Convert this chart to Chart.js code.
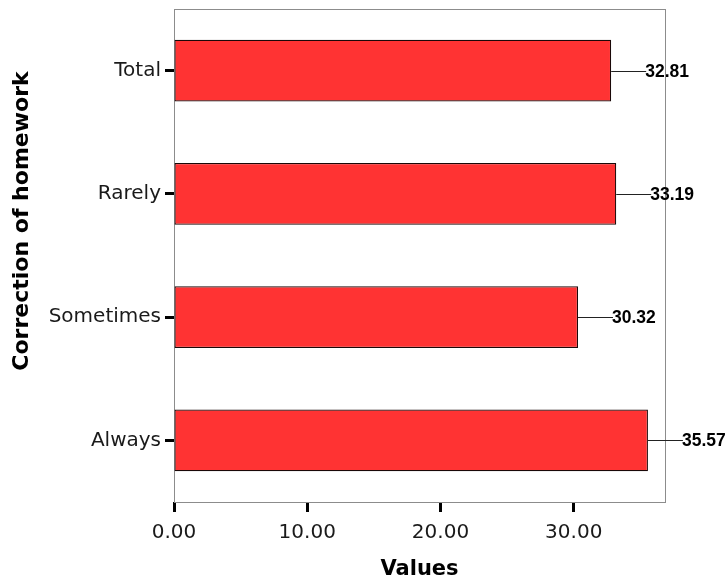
<!DOCTYPE html>
<html>
<head>
<meta charset="utf-8">
<script src="https://cdn.jsdelivr.net/npm/chart.js@4.4.1/dist/chart.umd.min.js"></script>
<style>
html, body { margin: 0; padding: 0; background: #fff; }
</style>
</head>
<body>
<canvas id="myChart" width="728" height="580"></canvas>
<script>
// categories, top to bottom
const categories = ['Total', 'Rarely', 'Sometimes', 'Always'];
// mean values per category
const values = [32.81, 33.19, 30.32, 35.57];
// x axis ticks
const xTicks = [0, 10, 20, 30];
const xMax = 36.85;
const xTitle = 'Values';
const yTitle = 'Correction of homework';

// box round the plot, leader lines with value labels, axis titles
const extras = {
  id: 'extras',
  beforeDatasetsDraw(chart) {
    const { ctx, chartArea: a } = chart;
    ctx.save();
    ctx.strokeStyle = '#8c8c8c';
    ctx.lineWidth = 1;
    ctx.strokeRect(Math.round(a.left) + 0.5, Math.round(a.top) + 0.5,
      Math.round(a.right - a.left), Math.round(a.bottom - a.top));
    ctx.restore();
  },
  afterDatasetsDraw(chart) {
    const { ctx } = chart;
    const meta = chart.getDatasetMeta(0);
    ctx.save();
    ctx.strokeStyle = '#222';
    ctx.lineWidth = 1;
    ctx.fillStyle = '#000';
    ctx.font = 'bold 17.5px "Liberation Sans", Arial, sans-serif';
    ctx.textAlign = 'left';
    ctx.textBaseline = 'middle';
    meta.data.forEach((bar, i) => {
      const y = Math.round(bar.y) + 0.5;
      ctx.beginPath();
      ctx.moveTo(bar.x, y);
      ctx.lineTo(bar.x + 35, y);
      ctx.stroke();
      ctx.fillText(values[i].toFixed(2), bar.x + 34, y + 1);
    });
    ctx.restore();
  },
  afterDraw(chart) {
    const { ctx, chartArea: a } = chart;
    ctx.save();
    ctx.fillStyle = '#000';
    ctx.textAlign = 'center';
    ctx.textBaseline = 'alphabetic';
    ctx.font = 'bold 21px "DejaVu Sans", sans-serif';
    ctx.fillText(xTitle, (a.left + a.right) / 2, 575);
    ctx.translate(28, 221);
    ctx.rotate(-Math.PI / 2);
    ctx.font = 'bold 22px "DejaVu Sans", sans-serif';
    ctx.fillText(yTitle, 0, 0);
    ctx.restore();
  }
};

const ctx = document.getElementById('myChart').getContext('2d');
const chart = new Chart(ctx, {
  type: 'bar',
  data: {
    labels: categories,
    datasets: [{
      data: values,
      backgroundColor: '#ff3333',
      borderColor: '#1a0808',
      borderWidth: 1.2,
      borderSkipped: false,
      categoryPercentage: 1,
      barPercentage: 0.5
    }]
  },
  options: {
    indexAxis: 'y',
    responsive: false,
    animation: false,
    devicePixelRatio: 1,
    layout: { padding: { top: 9, right: 63, left: 0, bottom: 0 } },
    plugins: {
      legend: { display: false },
      tooltip: { enabled: false }
    },
    scales: {
      x: {
        min: 0,
        max: xMax,
        afterBuildTicks: s => { s.ticks = xTicks.map(v => ({ value: v })); },
        afterFit: s => { s.height = 78; s.paddingLeft = 0; s.paddingRight = 0; },
        border: { display: false },
        grid: {
          drawOnChartArea: false,
          tickLength: 10,
          tickWidth: 3,
          tickColor: '#000'
        },
        ticks: {
          padding: 9,
          color: '#1a1a1a',
          font: { family: '"DejaVu Sans", sans-serif', size: 20 },
          callback: v => Number(v).toFixed(2)
        }
      },
      y: {
        afterFit: s => { s.width = 174; s.paddingTop = 0; s.paddingBottom = 0; },
        border: { display: false },
        grid: {
          offset: false,
          drawOnChartArea: false,
          tickLength: 9,
          tickWidth: 3,
          tickColor: '#000'
        },
        ticks: {
          padding: 4,
          color: '#1a1a1a',
          font: { family: '"DejaVu Sans", sans-serif', size: 20 }
        }
      }
    }
  },
  plugins: [extras]
});
</script>
</body>
</html>
